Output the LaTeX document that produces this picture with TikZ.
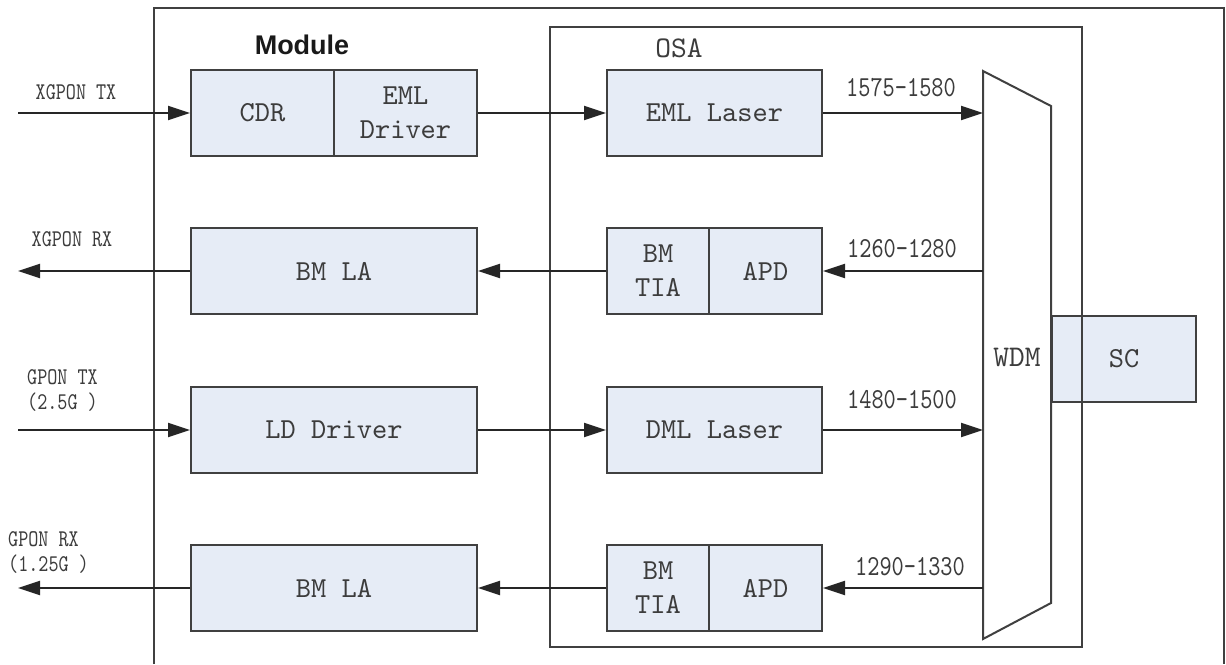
\documentclass[tikz,border=0pt]{standalone}
\usepackage{fontspec}
\usetikzlibrary{arrows.meta}
\newfontfamily\boxfont{lmmono10-regular.otf}
\newfontfamily\lblfont[FakeStretch=0.8]{lmmono10-regular.otf}
\newfontfamily\modfont{Liberation Sans}
\definecolor{lc}{RGB}{64,64,64}
\definecolor{bf}{RGB}{230,236,246}
\definecolor{tc}{RGB}{60,60,60}
\tikzset{
  frame/.style={draw=lc, line width=2pt},
  blk/.style={draw=lc, line width=2pt, fill=bf, inner sep=0pt, minimum height=86pt,
    text=tc, font=\boxfont\fontsize{29}{34}\selectfont, align=center},
  conn/.style={draw=black!85, line width=2pt, -{Triangle[length=22pt,width=14pt]}},
  lbl/.style={text=tc, font=\lblfont\fontsize{24}{25}\selectfont, inner sep=0pt},
  num/.style={text=tc, font=\lblfont\fontsize{29}{32}\selectfont, inner sep=0pt},
  ttl/.style={text=tc, font=\boxfont\fontsize{30}{32}\selectfont, inner sep=0pt}
}
\begin{document}
\begin{tikzpicture}[x=1pt,y=-1pt]
\useasboundingbox (0,0) rectangle (1226,664);
% module frame (open at bottom)
\draw[frame] (154,664) -- (154,8) -- (1224,8) -- (1224,664);
\node[font=\modfont\bfseries\fontsize{27}{30}\selectfont, text=black!90, inner sep=0pt] (module) at (302,45) {Module};
% SC box (under OSA border)
\node[blk, minimum width=144pt] (sc) at (1124,359) {SC};
% OSA frame
\draw[frame] (550,27) rectangle (1082,647);
\node[ttl] (osa) at (679,48) {OSA};
% WDM
\draw[frame, fill=white] (983,71) -- (1051,106) -- (1051,603) -- (983,639) -- cycle;
\node[ttl] (wdm) at (1017,357) {WDM};
% row 1
\node[blk, minimum width=143pt] (cdr) at (262.5,113) {CDR};
\node[blk, minimum width=143pt] (emld) at (405.5,113) {EML\\Driver};
\node[blk, minimum width=215pt] (emll) at (714.5,113) {EML Laser};
% row 2
\node[blk, minimum width=286pt] (la1) at (334,271) {BM LA};
\node[blk, minimum width=102pt] (tia1) at (658,271) {BM\\TIA};
\node[blk, minimum width=113pt] (apd1) at (765.5,271) {APD};
% row 3
\node[blk, minimum width=286pt] (ldd) at (334,430) {LD Driver};
\node[blk, minimum width=215pt] (dml) at (714.5,430) {DML Laser};
% row 4
\node[blk, minimum width=286pt] (la2) at (334,588) {BM LA};
\node[blk, minimum width=102pt] (tia2) at (658,588) {BM\\TIA};
\node[blk, minimum width=113pt] (apd2) at (765.5,588) {APD};
% free ends
\coordinate (xtx) at (18,113);
\coordinate (xrx) at (18,271);
\coordinate (gtx) at (18,430);
\coordinate (grx) at (18,588);
\coordinate (w1) at (983,113);
\coordinate (w2) at (983,271);
\coordinate (w3) at (983,430);
\coordinate (w4) at (983,588);
% connectors
\draw[conn] (xtx) -- (cdr.west);
\draw[conn] (emld.east) -- (emll.west);
\draw[conn] (emll.east) -- (w1);
\draw[conn] (w2) -- (apd1.east);
\draw[conn] (tia1.west) -- (la1.east);
\draw[conn] (la1.west) -- (xrx);
\draw[conn] (gtx) -- (ldd.west);
\draw[conn] (ldd.east) -- (dml.west);
\draw[conn] (dml.east) -- (w3);
\draw[conn] (w4) -- (apd2.east);
\draw[conn] (tia2.west) -- (la2.east);
\draw[conn] (la2.west) -- (grx);
% labels
\node[lbl] (lxtx) at (76,92) {XGPON TX};
\node[lbl] (lxrx) at (72,239) {XGPON RX};
\node[lbl, anchor=west, align=left] (lgtx) at (27,390.5) {GPON TX\\(2.5G )};
\node[lbl, anchor=west, align=left] (lgrx) at (8,552.5) {GPON RX\\(1.25G )};
\node[num] (n1) at (901,88) {1575-1580};
\node[num] (n2) at (902,249) {1260-1280};
\node[num] (n3) at (902,400) {1480-1500};
\node[num] (n4) at (910,567) {1290-1330};
\end{tikzpicture}
\end{document}
